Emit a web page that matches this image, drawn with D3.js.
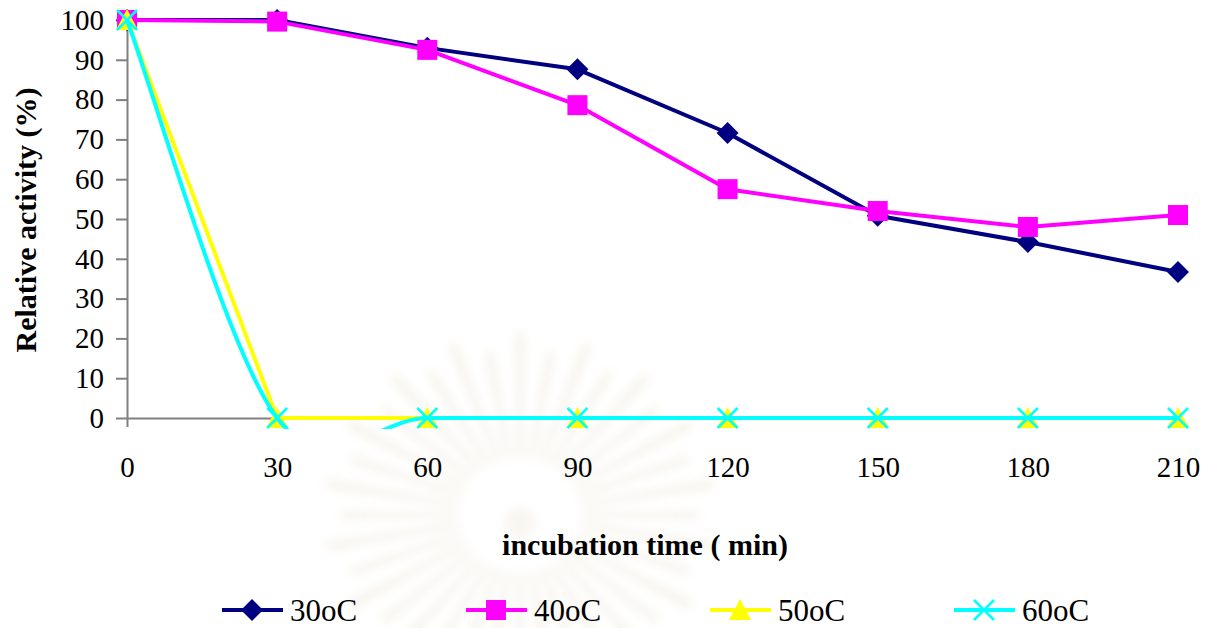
<!DOCTYPE html>
<html>
<head>
<meta charset="utf-8">
<script src="https://cdn.jsdelivr.net/npm/d3@7"></script>
<style>
  html, body { margin: 0; padding: 0; background: #ffffff; }
  svg { display: block; }
  svg text { font-family: "Times New Roman", Tinos, "Liberation Serif", "DejaVu Serif", "Noto Serif", serif; fill: #000; }
</style>
</head>
<body>
<svg id="chart" width="1216" height="628"></svg>
<script>
// Incubation time (min) at which residual activity was measured
const times = [0, 30, 60, 90, 120, 150, 180, 210];

// Relative activity (%) after incubation at each temperature
const act30 = [100, 100, 93.0, 87.6, 71.6, 50.8, 44.2, 36.7];
const act40 = [100, 99.6, 92.5, 78.6, 57.5, 52.0, 48.0, 51.0];
const act50 = [100, 0, 0, 0, 0, 0, 0, 0];
const act60 = [100, 0, 0, 0, 0, 0, 0, 0];

const seriesNames = ["30oC", "40oC", "50oC", "60oC"];
const yTicks = [0, 10, 20, 30, 40, 50, 60, 70, 80, 90, 100];
const xTicks = times;

const series = [
  { name: seriesNames[0], values: act30, color: "#000080", marker: "diamond", smooth: false },
  { name: seriesNames[1], values: act40, color: "#ff00ff", marker: "square", smooth: false },
  { name: seriesNames[2], values: act50, color: "#ffff00", marker: "triangle", smooth: false },
  { name: seriesNames[3], values: act60, color: "#00ffff", marker: "cross", smooth: true }
];

const serif = "'Times New Roman', Tinos, 'Liberation Serif', 'DejaVu Serif', 'Noto Serif', serif";

const svg = d3.select("#chart");
const x = d3.scaleLinear().domain([0, 210]).range([127, 1178]);
const y = d3.scaleLinear().domain([0, 100]).range([418, 20]);

// Smoothed spline through the points: Bezier segments whose handles follow
// the neighbouring points, with the end points repeated at both ends.
function smoothSpline(context) {
  let pts = [];
  return {
    areaStart() {}, areaEnd() {},
    lineStart() { pts = []; },
    point(px, py) { pts.push([+px, +py]); },
    lineEnd() {
      const n = pts.length;
      if (!n) return;
      context.moveTo(pts[0][0], pts[0][1]);
      for (let i = 0; i < n - 1; i++) {
        const a = pts[Math.max(i - 1, 0)], b = pts[i], c = pts[i + 1], d = pts[Math.min(i + 2, n - 1)];
        context.bezierCurveTo(
          b[0] + (c[0] - a[0]) / 6, b[1] + (c[1] - a[1]) / 6,
          c[0] - (d[0] - b[0]) / 6, c[1] - (d[1] - b[1]) / 6,
          c[0], c[1]);
      }
    }
  };
}

// Faint emblem behind the lower part of the chart
const defs = svg.append("defs");
defs.append("filter").attr("id", "soft")
  .append("feGaussianBlur").attr("stdDeviation", 5);
defs.append("clipPath").attr("id", "plotClip")
  .append("rect").attr("x", 0).attr("y", 0).attr("width", 1216).attr("height", 429);

const emblem = svg.append("g")
  .attr("transform", "translate(520,515)")
  .attr("filter", "url(#soft)")
  .attr("opacity", 0.35);
const rays = d3.range(36);
emblem.selectAll("path.ray").data(rays).join("path")
  .attr("class", "ray")
  .attr("fill", "#e6e0cc")
  .attr("d", i => {
    const a = (i / rays.length) * 2 * Math.PI;
    const w = 0.045;
    const r0 = 62, r1 = 175 + (i % 2) * 18;
    const p = (r, t) => [r * Math.cos(t), r * Math.sin(t) * 0.92];
    const A = p(r0, a - w), B = p(r1, a - w * 0.6), C = p(r1 + 8, a), D = p(r1, a + w * 0.6), E = p(r0, a + w);
    return `M${A}L${B}L${C}L${D}L${E}Z`;
  });
emblem.append("circle").attr("cx", 0).attr("cy", 8).attr("r", 16).attr("fill", "#ebe6d6");

// Axes
const axisColor = "#808080";
const yAxis = svg.append("g").attr("transform", `translate(${x(0)},0)`)
  .call(d3.axisLeft(y).tickValues(yTicks).tickSize(11).tickSizeOuter(0).tickPadding(12));
const xAxis = svg.append("g").attr("transform", `translate(0,${y(0)})`)
  .call(d3.axisBottom(x).tickValues(xTicks).tickSize(9).tickSizeOuter(0).tickPadding(29));
[yAxis, xAxis].forEach(g => {
  g.attr("font-family", serif);
  g.select(".domain").attr("stroke", axisColor).attr("stroke-width", 2);
  g.selectAll(".tick line").attr("stroke", axisColor).attr("stroke-width", 2);
  g.selectAll(".tick text")
    .attr("font-family", serif)
    .style("font-size", "29px").attr("fill", "#000");
});

// Marker shapes
function drawMarker(g, type, color, cx, cy) {
  if (type === "diamond") {
    g.append("path").attr("d", `M${cx},${cy - 11}L${cx + 11},${cy}L${cx},${cy + 11}L${cx - 11},${cy}Z`)
      .attr("fill", color);
  } else if (type === "square") {
    g.append("rect").attr("x", cx - 10).attr("y", cy - 10).attr("width", 20).attr("height", 20)
      .attr("fill", color);
  } else if (type === "triangle") {
    g.append("path").attr("d", `M${cx},${cy - 11}L${cx + 11},${cy + 10}L${cx - 11},${cy + 10}Z`)
      .attr("fill", color);
  } else if (type === "cross") {
    g.append("path").attr("d", `M${cx - 10},${cy - 10}L${cx + 10},${cy + 10}M${cx - 10},${cy + 10}L${cx + 10},${cy - 10}`)
      .attr("stroke", color).attr("stroke-width", 2.5).attr("fill", "none");
  }
}

// Series lines and markers
const plot = svg.append("g");
series.forEach(s => {
  const pts = times.map((t, i) => [t, s.values[i]]);
  const line = d3.line()
    .x(d => x(d[0])).y(d => y(d[1]))
    .curve(s.smooth ? smoothSpline : d3.curveLinear);
  plot.append("path")
    .attr("clip-path", "url(#plotClip)")
    .attr("d", line(pts))
    .attr("fill", "none").attr("stroke", s.color)
    .attr("stroke-width", 4).attr("stroke-linejoin", "round");
  const mg = plot.append("g");
  pts.forEach(d => drawMarker(mg, s.marker, s.color, x(d[0]), y(d[1])));
});

// Axis titles
svg.append("text")
  .attr("transform", "translate(36,220) rotate(-90)")
  .attr("text-anchor", "middle")
  .attr("font-family", serif)
  .style("font-size", "30px").style("font-weight", "bold")
  .text("Relative activity (%)");
svg.append("text")
  .attr("x", 645).attr("y", 555)
  .attr("text-anchor", "middle")
  .attr("font-family", serif)
  .style("font-size", "30px").style("font-weight", "bold")
  .text("incubation time ( min)");

// Legend
const legend = svg.append("g");
series.forEach((s, i) => {
  const lx = 222 + i * 244, ly = 610;
  legend.append("line").attr("x1", lx).attr("x2", lx + 61).attr("y1", ly).attr("y2", ly)
    .attr("stroke", s.color).attr("stroke-width", 4);
  drawMarker(legend, s.marker, s.color, lx + 30, ly);
  legend.append("text").attr("x", lx + 68).attr("y", ly + 11)
    .attr("font-family", serif)
    .style("font-size", "31px").text(s.name);
});
</script>
</body>
</html>
